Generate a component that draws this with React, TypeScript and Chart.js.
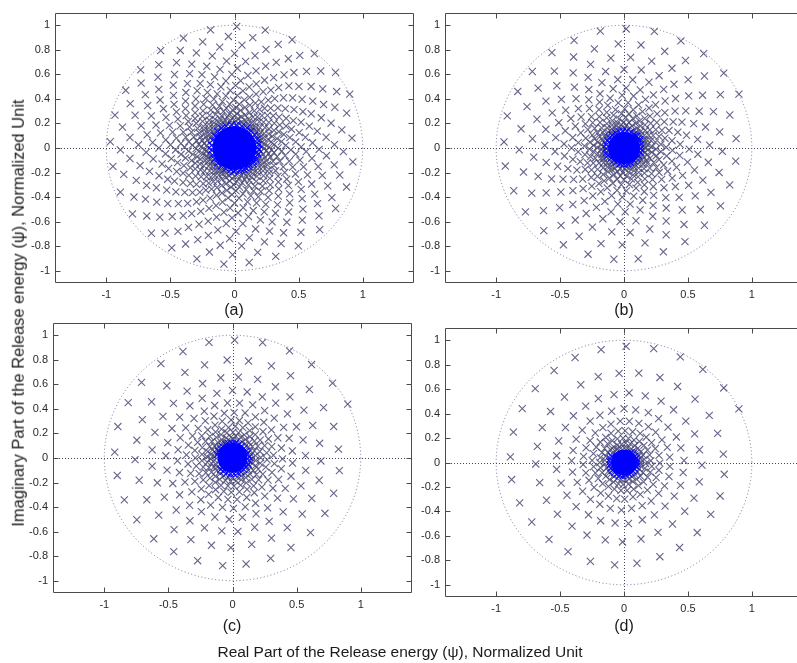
import React, { useEffect, useRef } from "react";
import { Chart, registerables } from "chart.js";

Chart.register(...registerables);

const xTickValues = [-1, -0.5, 0, 0.5, 1];
const yTickValues = [-1, -0.8, -0.6, -0.4, -0.2, 0, 0.2, 0.4, 0.6, 0.8, 1];
const panelLetters = ["(a)", "(b)", "(c)", "(d)"];
const xAxisTitle = "Real Part of the Release energy (\u03c8), Normalized Unit";
const yAxisTitle = "Imaginary Part of the Release energy (\u03c8), Normalized Unit";

// angular position (deg) of each pole, in spiral order; the four panels share them
const poleAngles = [
26,38,51,63,76,89,101,114,126,139,151,164,177,189,202,214,227,239,252,265,
277,290,302,315,328,340,353,5,18,30,43,56,68,81,93,106,118,131,144,156,
169,181,194,207,219,232,244,257,269,282,295,307,320,332,345,358,10,23,35,48,
60,73,86,98,111,123,136,148,161,174,186,199,211,224,237,249,262,274,287,299,
312,325,337,350,2,15,27,40,53,65,78,90,103,116,128,141,153,166,178,191,
204,216,229,241,254,267,279,292,304,317,329,342,355,7,20,32,45,57,70,83,
95,108,120,133,146,158,171,183,196,208,221,234,246,259,271,284,296,309,322,334,
347,359,12,
25,37,50,62,75,88,100,113,125,138,150,163,176,188,201,213,226,238,251,264,
276,289,301,314,327,339,352,4,17,29,42,55,67,80,92,105,117,130,143,155,
168,180,193,206,218,231,243,256,268,281,294,306,319,331,344,357,9,22,34,47,
59,72,85,97,110,122,135,147,160,173,185,198,210,223,236,248,261,273,286,298,
311,324,336,349,1,14,26,39,52,64,77,89,102,115,127,140,152,165,177,190,
203,215,228,240,253,266,278,291,303,316,328,341,354,6,19,31,44,56,69,82,
94,107,119,132,145,157,170,182,195,207,220,233,245,258,270,283,295,308,321,333,
346,358,11,
24,36,49,61,74,87,99,112,124,137,149,162,175,187,200,212,225,237,250,263,
275,288,300,313,326,338,351,3,16,28,41,54,66,79,91,104,116,129,142,154,
167,179,192,205,217,230,242,255,267,280,293,305,318,330,343,356,8,21,33,46,
58,71,84,96,109,121,134,146,159,172,184,197,209,222,235,247,260,272,285,297,
310,323,335,348,0,13,25,38,51,63,76,88,101,114,126,139,151,164,176,189,
202,214,227,239,252,265,277,290,302,315,327,340,353,5,18,30,43,55,68,81,
93,106,118,131,144,156,169,181,194,206,219,232,244,257,269,282,294,307,320,332,
345,357,10,
23,35,48,60,73,86,98,111,123,136,148,161,174,186,199,211,224,236,249,262,
274,287,299,312,325,337,350,2,15,27,40,53,65,78,90,103,115,128,141,153,
166,178,191,204,216,229,241,254,266,279,292,304,317,329,342,355,7,20,32,45,
57,70,83,95,108,120,133,145,158,171,183,196,208,221,234,246,259,271,284,296,
309,322,334,347,359,12,24,37,50,62,75,87,100,113,125,138,150,163,175,188,
201,213,226,238,251,264,276,289,301,314,326,339,352,4,17,29,42,54,67,80,
92,105,117,130,143,155,168,180,193,205,218,231,243,256,268,281,293,306,319,331,
344,356,9,
22,34,47,59,72,85,97,110,122,135,147,160,173,185,198,210,223,235,248,261,
273,286,298,311,324,336,349,1,14,
];

// distance of each pole from the origin, panel (a)
const poleRadiiA = [
1,1,.99,.99,.99,.99,.98,.98,.98,.97,.97,.97,.97,.96,.96,.96,.95,.95,.95,.95,
.94,.94,.94,.94,.93,.93,.93,.92,.92,.92,.92,.91,.91,.91,.91,.9,.9,.9,.9,
.89,.89,.89,.89,.88,.88,.88,.87,.87,.87,.87,.86,.86,.86,.86,.85,.85,.85,.85,
.84,.84,.84,.84,.84,.83,.83,.83,.83,.82,.82,.82,.82,.81,.81,.81,.81,.8,.8,.8,.8,
.79,.79,.79,.79,.79,.78,.78,.78,.78,.77,.77,.77,.77,.77,.76,.76,.76,.76,
.75,.75,.75,.75,.75,.74,.74,.74,.74,.74,.73,.73,.73,.73,.72,.72,.72,.72,.72,
.71,.71,.71,.71,.71,.7,.7,.7,.7,.7,.69,.69,.69,.69,.69,.68,.68,.68,.68,.68,
.67,.67,.67,.67,.67,.66,.66,.66,.66,.66,.65,.65,.65,.65,.65,
.64,.64,.64,.64,.64,.64,.63,.63,.63,.63,.63,.62,.62,.62,.62,.62,.62,
.61,.61,.61,.61,.61,.61,.6,.6,.6,.6,.6,
.59,.59,.59,.59,.59,.59,.58,.58,.58,.58,.58,.58,.57,.57,.57,.57,.57,.57,
.56,.56,.56,.56,.56,.56,.55,.55,.55,.55,.55,.55,
.54,.54,.54,.54,.54,.54,.54,.53,.53,.53,.53,.53,.53,.52,.52,.52,.52,.52,.52,.52,
.51,.51,.51,.51,.51,.51,.51,.5,.5,.5,.5,.5,.5,.5,
.49,.49,.49,.49,.49,.49,.49,.48,.48,.48,.48,.48,.48,.48,.47,.47,.47,.47,.47,.47,.47,
.46,.46,.46,.46,.46,.46,.46,.46,.45,.45,.45,.45,.45,.45,.45,
.44,.44,.44,.44,.44,.44,.44,.44,.43,.43,.43,.43,.43,.43,.43,.43,
.42,.42,.42,.42,.42,.42,.42,.42,.41,.41,.41,.41,.41,.41,.41,.41,.41,
.4,.4,.4,.4,.4,.4,.4,.4,.39,.39,.39,.39,.39,.39,.39,.39,.39,
.38,.38,.38,.38,.38,.38,.38,.38,.38,.37,.37,.37,.37,.37,.37,.37,.37,.37,.37,
.36,.36,.36,.36,.36,.36,.36,.36,.36,.35,.35,.35,.35,.35,.35,.35,.35,.35,.35,
.34,.34,.34,.34,.34,.34,.34,.34,.34,.34,.33,.33,.33,.33,.33,.33,.33,.33,.33,.33,
.32,.32,.32,.32,.32,.32,.32,.32,.32,.32,.32,.31,.31,.31,.31,.31,.31,.31,.31,.31,.31,.31,
.3,.3,.3,.3,.3,.3,.3,.3,.3,.3,.3,.3,.29,.29,.29,.29,.29,.29,.29,.29,.29,.29,.29,.29,
.28,.28,.28,.28,.28,.28,.28,.28,.28,.28,.28,.28,
.27,.27,.27,.27,.27,.27,.27,.27,.27,.27,.27,.27,.27,
.26,.26,.26,.26,.26,.26,.26,.26,.26,.26,.26,.26,.26,
.25,.25,.25,.25,.25,.25,.25,.25,.25,.25,.25,.25,.25,.25,
.24,.24,.24,.24,.24,.24,.24,.24,.24,.24,.24,.24,.24,.24,
.23,.23,.23,.23,.23,.23,.23,.23,.23,.23,.23,.23,.23,.23,.23,
.22,.22,.22,.22,.22,.22,.22,.22,.22,.22,.22,.22,.22,.22,.22,.22,
.21,.21,.21,.21,.21,.21,.21,.21,.21,.21,.21,.21,.21,.21,.21,.21,
.2,.2,.2,.2,.2,.2,.2,.2,.2,.2,.2,.2,.2,.2,.2,.2,.2,
.19,.19,.19,.19,.19,.19,.19,.19,.19,.19,.19,.19,.19,.19,.19,.19,.19,.19,.19,
.18,.18,.18,.18,.18,.18,.18,.18,.18,.18,.18,.18,.18,.18,.18,.18,.18,.18,.18,
];

// panel (b)
const poleRadiiB = [
1,.99,.99,.98,.98,.97,.97,.96,.96,.95,.95,.95,.94,.94,.93,.93,.92,.92,.91,.91,.91,
.9,.9,.89,.89,.88,.88,.88,.87,.87,.86,.86,.85,.85,.85,.84,.84,.83,.83,.83,.82,.82,
.81,.81,.81,.8,.8,.8,.79,.79,.78,.78,.78,.77,.77,.77,.76,.76,.75,.75,.75,
.74,.74,.74,.73,.73,.73,.72,.72,.72,.71,.71,.71,.7,.7,
.69,.69,.69,.69,.68,.68,.68,.67,.67,.67,.66,.66,.66,.65,.65,.65,
.64,.64,.64,.63,.63,.63,.63,.62,.62,.62,.61,.61,.61,.6,.6,.6,.6,
.59,.59,.59,.58,.58,.58,.58,.57,.57,.57,.57,.56,.56,.56,.55,.55,.55,.55,
.54,.54,.54,.54,.53,.53,.53,.53,.52,.52,.52,.52,.51,.51,.51,.51,.5,.5,.5,.5,
.49,.49,.49,.49,.48,.48,.48,.48,.48,.47,.47,.47,.47,.46,.46,.46,.46,.46,.45,.45,.45,.45,
.44,.44,.44,.44,.44,.43,.43,.43,.43,.43,.42,.42,.42,.42,.42,.41,.41,.41,.41,.41,.4,.4,.4,.4,.4,
.39,.39,.39,.39,.39,.38,.38,.38,.38,.38,.38,.37,.37,.37,.37,.37,
.36,.36,.36,.36,.36,.36,.35,.35,.35,.35,.35,.35,
.34,.34,.34,.34,.34,.34,.33,.33,.33,.33,.33,.33,
.32,.32,.32,.32,.32,.32,.32,.31,.31,.31,.31,.31,.31,.31,.3,.3,.3,.3,.3,.3,.3,
.29,.29,.29,.29,.29,.29,.29,.28,.28,.28,.28,.28,.28,.28,
.27,.27,.27,.27,.27,.27,.27,.27,.26,.26,.26,.26,.26,.26,.26,.26,.25,.25,.25,.25,.25,.25,.25,.25,
.24,.24,.24,.24,.24,.24,.24,.24,.24,.23,.23,.23,.23,.23,.23,.23,.23,.23,
.22,.22,.22,.22,.22,.22,.22,.22,.22,.21,.21,.21,.21,.21,.21,.21,.21,.21,.21,
.2,.2,.2,.2,.2,.2,.2,.2,.2,.2,.2,.19,.19,.19,.19,.19,.19,.19,.19,.19,.19,.19,
.18,.18,.18,.18,.18,.18,.18,.18,.18,.18,.18,.17,.17,.17,.17,.17,.17,.17,.17,.17,.17,.17,.17,
.16,.16,.16,.16,.16,.16,.16,.16,.16,.16,.16,.16,.16,
.15,.15,.15,.15,.15,.15,.15,.15,.15,.15,.15,.15,.15,.15,
.14,.14,.14,.14,.14,.14,.14,.14,.14,.14,.14,.14,.14,.14,.14,
.13,.13,.13,.13,.13,.13,.13,.13,.13,.13,.13,.13,.13,.13,.13,.13,
];

// panel (c)
const poleRadiiC = [
1,.99,.98,.98,.97,.96,.96,.95,.95,.94,.93,.93,.92,.91,.91,.9,.9,.89,.88,.88,.87,.87,.86,.86,.85,
.84,.84,.83,.83,.82,.82,.81,.81,.8,.8,.79,.79,.78,.78,.77,.76,.76,.75,.75,.74,.74,.74,
.73,.73,.72,.72,.71,.71,.7,.7,.69,.69,.68,.68,.67,.67,.67,.66,.66,.65,.65,
.64,.64,.64,.63,.63,.62,.62,.61,.61,.61,.6,.6,.59,.59,.59,.58,.58,.58,.57,.57,
.56,.56,.56,.55,.55,.55,.54,.54,.54,.53,.53,.52,.52,.52,.51,.51,.51,.5,.5,.5,
.49,.49,.49,.48,.48,.48,.47,.47,.47,.47,.46,.46,.46,.45,.45,.45,
.44,.44,.44,.44,.43,.43,.43,.42,.42,.42,.42,.41,.41,.41,.41,.4,.4,.4,
.39,.39,.39,.39,.38,.38,.38,.38,.37,.37,.37,.37,.36,.36,.36,.36,.35,.35,.35,.35,.35,
.34,.34,.34,.34,.33,.33,.33,.33,.33,.32,.32,.32,.32,.31,.31,.31,.31,.31,.3,.3,.3,.3,.3,
.29,.29,.29,.29,.29,.29,.28,.28,.28,.28,.28,.27,.27,.27,.27,.27,.27,.26,.26,.26,.26,.26,
.25,.25,.25,.25,.25,.25,.24,.24,.24,.24,.24,.24,.24,.23,.23,.23,.23,.23,.23,
.22,.22,.22,.22,.22,.22,.22,.21,.21,.21,.21,.21,.21,.21,.2,.2,.2,.2,.2,.2,.2,.2,
.19,.19,.19,.19,.19,.19,.19,.19,.18,.18,.18,.18,.18,.18,.18,.18,
.17,.17,.17,.17,.17,.17,.17,.17,.17,.16,.16,.16,.16,.16,.16,.16,.16,.16,.16,
.15,.15,.15,.15,.15,.15,.15,.15,.15,.15,.14,.14,.14,.14,.14,.14,.14,.14,.14,.14,
.13,.13,.13,.13,.13,.13,.13,.13,.13,.13,.13,.13,.12,.12,.12,.12,.12,.12,.12,.12,.12,.12,.12,.12,.12,
];

// panel (d)
const poleRadiiD = [
1,.99,.98,.97,.96,.95,.94,.94,.93,.92,.91,.9,.89,.89,.88,.87,.86,.85,.85,.84,.83,.82,.82,.81,.8,.8,
.79,.78,.77,.77,.76,.75,.75,.74,.73,.73,.72,.71,.71,.7,.69,.69,.68,.68,.67,.66,.66,.65,.65,
.64,.63,.63,.62,.62,.61,.61,.6,.6,.59,.58,.58,.57,.57,.56,.56,.55,.55,
.54,.54,.53,.53,.52,.52,.52,.51,.51,.5,.5,.49,.49,.48,.48,.48,.47,.47,.46,.46,.45,.45,.45,
.44,.44,.43,.43,.43,.42,.42,.41,.41,.41,.4,.4,.4,.39,.39,.39,.38,.38,.38,.37,.37,.37,
.36,.36,.36,.35,.35,.35,.34,.34,.34,.33,.33,.33,.32,.32,.32,.32,.31,.31,.31,.31,.3,.3,.3,
.29,.29,.29,.29,.28,.28,.28,.28,.27,.27,.27,.27,.26,.26,.26,.26,.25,.25,.25,.25,.25,
.24,.24,.24,.24,.23,.23,.23,.23,.23,.22,.22,.22,.22,.22,.21,.21,.21,.21,.21,.2,.2,.2,.2,.2,.2,
.19,.19,.19,.19,.19,.19,.18,.18,.18,.18,.18,.18,.17,.17,.17,.17,.17,.17,
.16,.16,.16,.16,.16,.16,.16,.15,.15,.15,.15,.15,.15,.15,.15,
.14,.14,.14,.14,.14,.14,.14,.14,.13,.13,.13,.13,.13,.13,.13,.13,
.12,.12,.12,.12,.12,.12,.12,.12,.12,.11,.11,.11,.11,.11,.11,.11,.11,.11,.11,
.1,.1,.1,.1,.1,.1,.1,.1,.1,.1,.1,.1,
];

const FONT = "'Liberation Sans', Arial, Helvetica, sans-serif";
const Y_AXIS_W = 45;
const PAD_T = 6;
const PAD_R = 6;
const X_AXIS_H = 26;

type Box = { left: number; top: number; width: number; height: number };
type PanelSpec = { radii: number[]; box: Box; letterX: number; letterY: number; coreRadius: number; coreEdge: number };

const panels: PanelSpec[] = [
  { radii: poleRadiiA, box: { left: 55, top: 13, width: 359, height: 270 }, letterX: 234, letterY: 310, coreRadius: 22, coreEdge: 0.19 },
  { radii: poleRadiiB, box: { left: 445, top: 13, width: 358, height: 270 }, letterX: 624, letterY: 310, coreRadius: 16, coreEdge: 0.14 },
  { radii: poleRadiiC, box: { left: 53, top: 323, width: 359, height: 270 }, letterX: 232, letterY: 626, coreRadius: 15, coreEdge: 0.13 },
  { radii: poleRadiiD, box: { left: 445, top: 328, width: 358, height: 269 }, letterX: 624, letterY: 626, coreRadius: 13, coreEdge: 0.11 },
];

const framePlugin = {
  id: "pzFrame",
  beforeDatasetsDraw(chart: any) {
    const { ctx, chartArea: a, scales } = chart;
    const xs = scales.x;
    const ys = scales.y;
    const cx = xs.getPixelForValue(0);
    const cy = ys.getPixelForValue(0);
    ctx.save();
    ctx.beginPath();
    ctx.rect(a.left, a.top, a.right - a.left, a.bottom - a.top);
    ctx.clip();
    ctx.lineWidth = 1;
    ctx.setLineDash([1, 2]);
    ctx.strokeStyle = "rgba(50,50,80,0.9)";
    const hx = Math.round(cx) + 0.5;
    const hy = Math.round(cy) + 0.5;
    ctx.beginPath();
    ctx.moveTo(a.left, hy);
    ctx.lineTo(a.right, hy);
    ctx.moveTo(hx, a.top);
    ctx.lineTo(hx, a.bottom);
    ctx.stroke();
    ctx.setLineDash([1, 2.5]);
    ctx.strokeStyle = "rgba(95,95,135,0.85)";
    ctx.beginPath();
    ctx.ellipse(cx, cy, xs.getPixelForValue(1) - cx, cy - ys.getPixelForValue(1), 0, 0, Math.PI * 2);
    ctx.stroke();
    ctx.restore();
  },
  afterDatasetsDraw(chart: any) {
    const { ctx, chartArea: a, scales } = chart;
    const L = Math.round(a.left) + 0.5;
    const R = Math.round(a.right) - 0.5;
    const T = Math.round(a.top) + 0.5;
    const B = Math.round(a.bottom) - 0.5;
    const tl = 5;
    ctx.save();
    ctx.setLineDash([]);
    ctx.lineWidth = 1;
    ctx.strokeStyle = "#4a4a4a";
    ctx.beginPath();
    ctx.rect(L, T, R - L, B - T);
    for (const v of xTickValues) {
      const p = Math.round(scales.x.getPixelForValue(v)) + 0.5;
      ctx.moveTo(p, B);
      ctx.lineTo(p, B - tl);
      ctx.moveTo(p, T);
      ctx.lineTo(p, T + tl);
    }
    for (const v of yTickValues) {
      const p = Math.round(scales.y.getPixelForValue(v)) + 0.5;
      ctx.moveTo(L, p);
      ctx.lineTo(L + tl, p);
      ctx.moveTo(R, p);
      ctx.lineTo(R - tl, p);
    }
    ctx.stroke();
    ctx.restore();
  },
};

function PolePanel({ spec }: { spec: PanelSpec }) {
  const ref = useRef<HTMLCanvasElement | null>(null);
  const w = spec.box.width + Y_AXIS_W + PAD_R;
  const h = spec.box.height + PAD_T + X_AXIS_H;
  useEffect(() => {
    const canvas = ref.current;
    if (!canvas) return;
    const pts: { x: number; y: number }[] = [];
    const cols: string[] = [];
    spec.radii.forEach((r, k) => {
      const deg = poleAngles[k];
      if (deg === undefined) return;
      const t = (deg * Math.PI) / 180;
      pts.push({ x: r * Math.cos(t), y: r * Math.sin(t) });
      cols.push(r <= spec.coreEdge ? "rgba(0,0,255,0.95)" : "rgba(74,74,118,0.85)");
    });
    const tickFont = { family: FONT, size: 11 };
    const chart = new Chart(canvas, {
      type: "scatter",
      data: {
        datasets: [
          {
            label: "core",
            data: [{ x: 0, y: 0 }],
            pointStyle: "circle",
            pointRadius: spec.coreRadius,
            pointBackgroundColor: "#0000ff",
            pointBorderColor: "#0000ff",
            pointBorderWidth: 0,
          },
          {
            label: "poles",
            data: pts,
            pointStyle: "crossRot",
            pointRadius: 5,
            pointBorderWidth: 1.1,
            pointBorderColor: cols,
            pointBackgroundColor: "rgba(0,0,0,0)",
          },
        ],
      },
      options: {
        animation: false,
        responsive: false,
        devicePixelRatio: 1,
        events: [],
        layout: { autoPadding: false, padding: { top: PAD_T, right: PAD_R, left: 0, bottom: 0 } },
        plugins: { legend: { display: false }, tooltip: { enabled: false } },
        scales: {
          x: {
            type: "linear",
            min: -1.4,
            max: 1.4,
            grid: { display: false, drawTicks: false },
            border: { display: false },
            ticks: { color: "#2a2a2a", font: tickFont, padding: 5, maxRotation: 0, autoSkip: false, callback: (v: any) => String(v) },
            afterBuildTicks: (s: any) => {
              s.ticks = xTickValues.map((value) => ({ value }));
            },
            afterFit: (s: any) => {
              s.height = X_AXIS_H;
              s.paddingLeft = 0;
              s.paddingRight = 0;
            },
          },
          y: {
            type: "linear",
            min: -1.1,
            max: 1.1,
            grid: { display: false, drawTicks: false },
            border: { display: false },
            ticks: { color: "#2a2a2a", font: tickFont, padding: 5, autoSkip: false, callback: (v: any) => String(v) },
            afterBuildTicks: (s: any) => {
              s.ticks = yTickValues.map((value) => ({ value }));
            },
            afterFit: (s: any) => {
              s.width = Y_AXIS_W;
              s.paddingTop = 0;
              s.paddingBottom = 0;
            },
          },
        },
      } as any,
      plugins: [framePlugin],
    });
    return () => chart.destroy();
  }, [spec]);
  return (
    <canvas
      ref={ref}
      width={w}
      height={h}
      style={{ position: "absolute", left: spec.box.left - Y_AXIS_W, top: spec.box.top - PAD_T, width: w, height: h }}
    />
  );
}

const textBase: React.CSSProperties = {
  position: "absolute",
  whiteSpace: "nowrap",
  fontFamily: FONT,
  color: "#1a1a1a",
  lineHeight: 1,
};

export default function App() {
  return (
    <div style={{ position: "absolute", left: 0, top: 0, width: 797, height: 663, overflow: "hidden", background: "#ffffff" }}>
      {panels.map((p, i) => (
        <PolePanel key={i} spec={p} />
      ))}
      {panels.map((p, i) => (
        <div key={"l" + i} style={{ ...textBase, left: p.letterX, top: p.letterY, fontSize: 16, transform: "translate(-50%, -50%)" }}>
          {panelLetters[i]}
        </div>
      ))}
      <div style={{ ...textBase, left: 400, top: 652, fontSize: 15.5, transform: "translate(-50%, -50%)" }}>{xAxisTitle}</div>
      <div style={{ ...textBase, left: 18, top: 313, fontSize: 16.5, transform: "translate(-50%, -50%) rotate(-90deg)" }}>{yAxisTitle}</div>
    </div>
  );
}
